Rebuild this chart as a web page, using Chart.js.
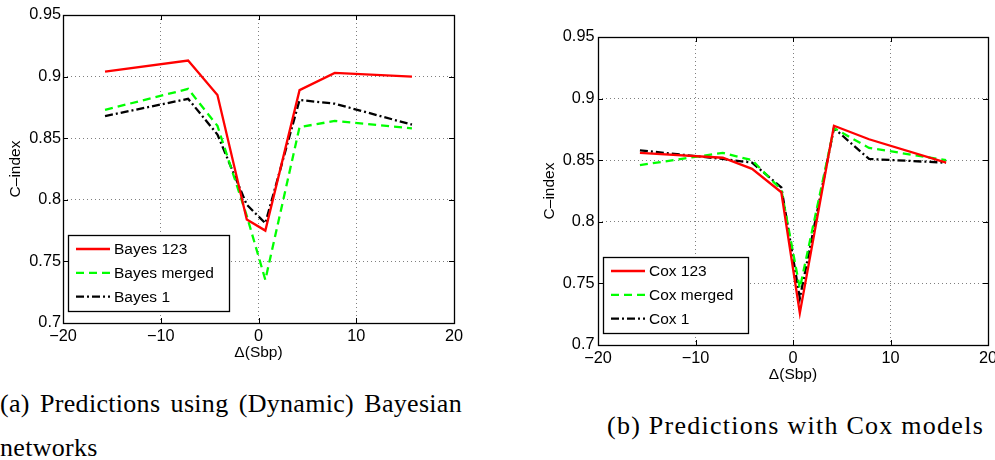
<!DOCTYPE html>
<html>
<head>
<meta charset="utf-8">
<script src="https://cdn.jsdelivr.net/npm/chart.js@4.4.0/dist/chart.umd.min.js"></script>
<style>
html,body{margin:0;padding:0;background:#fff;width:995px;height:460px;overflow:hidden;position:relative;}
canvas{position:absolute;top:0;}
#c1{left:0;}
#c2{left:530px;}
.cap{position:absolute;font-family:"Liberation Serif","Times New Roman",serif;font-size:26px;line-height:44px;color:#000;}
#capA{left:0;top:382px;width:462px;text-align:justify;text-align-last:left;letter-spacing:0.3px;}
#capB{left:607px;top:404px;white-space:nowrap;letter-spacing:1.26px;}
</style>
</head>
<body>
<canvas id="c1" width="470" height="365"></canvas>
<canvas id="c2" width="465" height="390"></canvas>
<div class="cap" id="capA">(a) Predictions using (Dynamic) Bayesian networks</div>
<div class="cap" id="capB">(b) Predictions with Cox models</div>
<script>
// ---- data ----
const xValues = [-15.7, -7.2, -4.2, -1.2, 0.7, 4.2, 7.8, 15.7];

const bayes123    = [0.904, 0.913, 0.885, 0.784, 0.775, 0.889, 0.903, 0.900];
const bayesMerged = [0.873, 0.890, 0.860, 0.787, 0.735, 0.859, 0.864, 0.858];
const bayes1      = [0.868, 0.882, 0.853, 0.796, 0.781, 0.881, 0.878, 0.861];

const cox123      = [0.856, 0.852, 0.843, 0.824, 0.726, 0.878, 0.867, 0.848];
const coxMerged   = [0.846, 0.856, 0.850, 0.826, 0.746, 0.876, 0.860, 0.850];
const cox1        = [0.858, 0.851, 0.848, 0.828, 0.738, 0.876, 0.851, 0.848];

const seriesNamesA = ['Bayes 123', 'Bayes merged', 'Bayes 1'];
const seriesNamesB = ['Cox 123', 'Cox merged', 'Cox 1'];

const xTicks = [-20, -10, 0, 10, 20];
const xTickLabels = ['\u221220', '\u221210', '0', '10', '20'];
const yTicks = [0.7, 0.75, 0.8, 0.85, 0.9, 0.95];
const yTickLabels = ['0.7', '0.75', '0.8', '0.85', '0.9', '0.95'];

const xAxisTitle = '\u0394(Sbp)';
const yAxisTitle = 'C\u2013index';

// ---- styles ----
const lineStyles = [
  {color: '#ff0000', dash: []},
  {color: '#00ff00', dash: [8, 5]},
  {color: '#000000', dash: [8, 3, 2, 3]}
];
const FONT_FAMILY = '"Liberation Sans", Arial, Helvetica, sans-serif';
const FONT_SIZE = 15.5;
const TICK_FONT_SIZE = 16.3;
const LINE_WIDTH = 2.3;

const framePlugin = {
  id: 'frame',
  afterDatasetsDraw(chart) {
    const ctx = chart.ctx, ca = chart.chartArea;
    const xs = chart.scales.x, ys = chart.scales.y;
    ctx.save();
    ctx.strokeStyle = '#000';
    ctx.lineWidth = 1;
    ctx.setLineDash([]);
    ctx.beginPath();
    xTicks.forEach(v => {
      const px = Math.round(xs.getPixelForValue(v)) + 0.5;
      ctx.moveTo(px, ca.bottom); ctx.lineTo(px, ca.bottom - 5);
      ctx.moveTo(px, ca.top); ctx.lineTo(px, ca.top + 5);
    });
    yTicks.forEach(v => {
      const py = Math.round(ys.getPixelForValue(v)) + 0.5;
      ctx.moveTo(ca.left, py); ctx.lineTo(ca.left + 5, py);
      ctx.moveTo(ca.right, py); ctx.lineTo(ca.right - 5, py);
    });
    ctx.stroke();
    ctx.lineWidth = 1.3;
    ctx.strokeRect(Math.round(ca.left) + 0.5, Math.round(ca.top) + 0.5,
                   Math.round(ca.right - ca.left), Math.round(ca.bottom - ca.top));
    ctx.restore();
  }
};

const boxLegendPlugin = {
  id: 'boxLegend',
  afterDraw(chart) {
    const ctx = chart.ctx, ca = chart.chartArea;
    const ds = chart.data.datasets;
    ctx.save();
    ctx.font = FONT_SIZE + 'px ' + FONT_FAMILY;
    const tw = Math.max(...ds.map(d => ctx.measureText(d.label).width));
    const w = Math.round(46 + tw + 15), h = 76;
    const x0 = Math.round(ca.left + 5), y0 = Math.round(ca.bottom - 12 - h);
    ctx.fillStyle = '#fff';
    ctx.fillRect(x0, y0, w, h);
    ctx.strokeStyle = '#000';
    ctx.lineWidth = 1.3;
    ctx.strokeRect(x0 + 0.5, y0 + 0.5, w, h);
    ds.forEach((d, i) => {
      const y = y0 + 14 + i * 23.8;
      ctx.beginPath();
      ctx.setLineDash(d.borderDash || []);
      ctx.strokeStyle = d.borderColor;
      ctx.lineWidth = d.borderWidth;
      ctx.moveTo(x0 + 8, y);
      ctx.lineTo(x0 + 42, y);
      ctx.stroke();
      ctx.setLineDash([]);
      ctx.fillStyle = '#000';
      ctx.textBaseline = 'middle';
      ctx.textAlign = 'left';
      ctx.fillText(d.label, x0 + 46, y + 1);
    });
    ctx.restore();
  }
};

function makeChart(id, seriesList, names, g) {
  const font = {family: FONT_FAMILY, size: FONT_SIZE};
  const tickFont = {family: FONT_FAMILY, size: TICK_FONT_SIZE};
  const datasets = seriesList.map((vals, i) => ({
    label: names[i],
    data: xValues.map((x, j) => ({x: x, y: vals[j]})),
    borderColor: lineStyles[i].color,
    borderDash: lineStyles[i].dash,
    borderWidth: LINE_WIDTH,
    pointRadius: 0,
    fill: false,
    tension: 0
  }));
  return new Chart(document.getElementById(id), {
    type: 'line',
    data: {datasets},
    options: {
      responsive: false,
      animation: false,
      devicePixelRatio: 1,
      layout: {padding: {left: 0, top: g.top, right: g.right, bottom: 0}},
      plugins: {legend: {display: false}, tooltip: {enabled: false}},
      scales: {
        x: {
          type: 'linear', min: -20, max: 20,
          afterBuildTicks: s => { s.ticks = xTicks.map(v => ({value: v})); },
          afterFit: s => { s.height = g.xh; s.paddingLeft = 0; s.paddingRight = 0; },
          ticks: {callback: (v, i) => xTickLabels[i], padding: 3.5, color: '#000', font: tickFont, maxRotation: 0, autoSkip: false},
          grid: {color: 'rgba(0,0,0,0.5)', lineWidth: 1, drawTicks: false},
          border: {display: false, dash: [1, 3]},
          title: {display: true, text: xAxisTitle, color: '#000', font, padding: {top: 0, bottom: g.xtp}}
        },
        y: {
          type: 'linear', min: 0.7, max: 0.95,
          afterBuildTicks: s => { s.ticks = yTicks.map(v => ({value: v})); },
          afterFit: s => { s.width = g.yw; s.paddingTop = 0; s.paddingBottom = 0; },
          ticks: {callback: (v, i) => yTickLabels[i], padding: g.ytickPad, color: '#000', font: tickFont, autoSkip: false},
          grid: {color: 'rgba(0,0,0,0.5)', lineWidth: 1, drawTicks: false},
          border: {display: false, dash: [1, 3]},
          title: {display: true, text: yAxisTitle, color: '#000', font, padding: {top: g.ytp, bottom: 0}}
        }
      }
    },
    plugins: [framePlugin, boxLegendPlugin]
  });
}

makeChart('c1', [bayes123, bayesMerged, bayes1], seriesNamesA,
  {top: 15, right: 16, xh: 42, yw: 63, xtp: 2.7, ytp: 6.7, ytickPad: 2});
makeChart('c2', [cox123, coxMerged, cox1], seriesNamesB,
  {top: 37, right: 7, xh: 45, yw: 68, xtp: 5.7, ytp: 10.7, ytickPad: 3.5});
</script>
</body>
</html>
